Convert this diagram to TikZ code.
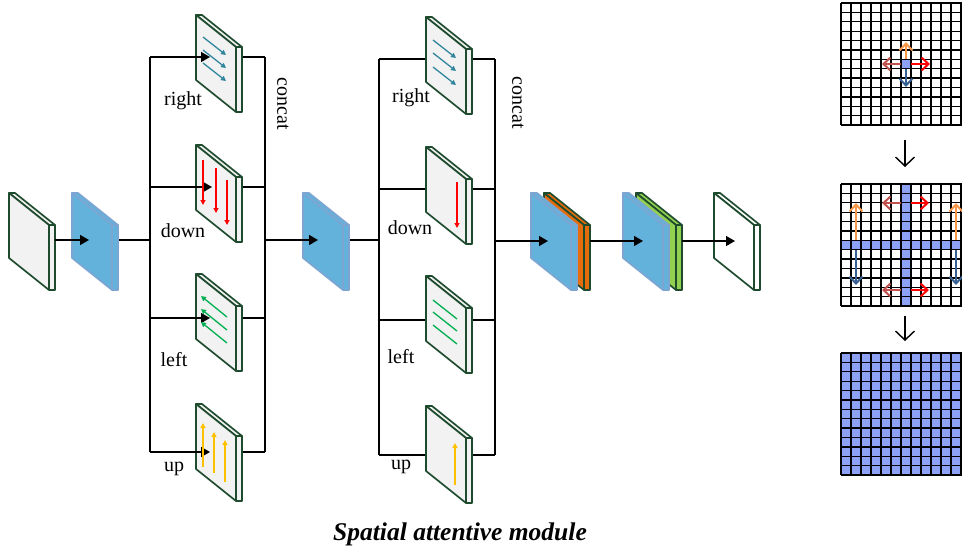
\documentclass[tikz,border=0pt]{standalone}
\usepackage{fontspec}
\setmainfont{Liberation Serif}
\usetikzlibrary{arrows.meta,calc}
\definecolor{slabD}{RGB}{30,75,45}
\definecolor{slabF}{RGB}{242,242,242}
\definecolor{blueF}{RGB}{99,178,219}
\definecolor{blueD}{RGB}{125,165,210}
\definecolor{orangeF}{RGB}{228,108,10}
\definecolor{greenF}{RGB}{146,208,80}
\definecolor{tealA}{RGB}{49,133,156}
\definecolor{redA}{RGB}{255,0,0}
\definecolor{greenA}{RGB}{0,176,80}
\definecolor{yellowA}{RGB}{255,192,0}
\definecolor{gridB}{RGB}{142,162,245}
\definecolor{gOrange}{RGB}{247,150,70}
\definecolor{gBrown}{RGB}{192,80,77}
\definecolor{gBlue}{RGB}{55,96,146}
\newcommand\slab[5]{%
  \coordinate (#1) at (#2,#3);
  \begin{scope}[shift={(#1)}]
    \filldraw[fill=#4,draw=#5,slabline] (0,0) -- (6,0) -- (46,32) -- (40,32) -- cycle;
    \filldraw[fill=#4,draw=#5,slabline] (40,32) -- (46,32) -- (46,97) -- (40,97) -- cycle;
    \filldraw[fill=#4,draw=#5,slabline] (0,0) -- (40,32) -- (40,97) -- (0,65) -- cycle;
  \end{scope}}
\newcommand\gridat[1]{%
  \foreach \i in {0,...,13} \draw[gridline] (841+10*\i,#1) -- (841+10*\i,#1+122);
  \foreach \j in {0,...,13} \draw[gridline] (841,#1+9.385*\j) -- (971,#1+9.385*\j);}
\begin{document}
\begin{tikzpicture}[x=1pt,y=-1pt,
  slabline/.style={line width=1.7pt,line join=round},
  conn/.style={line width=1.5pt,black},
  arr/.style={conn,-{Triangle[length=9pt,width=10pt]}},
  lbl/.style={font=\fontsize{20}{20}\selectfont,inner sep=0pt},
  inarr/.style={line width=1.3pt,-{Triangle[length=5pt,width=5pt]}},
  gridline/.style={line width=1.3pt,black},
  garr/.style={line width=2pt,-{Straight Barb[length=7pt,width=13pt]}},
  darr/.style={line width=1.4pt,black,-{Straight Barb[length=9pt,width=19pt]}}]
\useasboundingbox (0,0) rectangle (962,550);
% ---------- junction coordinates ----------
\coordinate (in1) at (55,240);  \coordinate (t1) at (89,240);
\coordinate (o1) at (118,240);  \coordinate (m1) at (150,240);
\coordinate (A1) at (150,57);  \coordinate (A2) at (150,187);
\coordinate (A3) at (150,318); \coordinate (A4) at (150,452);
\coordinate (TA1) at (210,57); \coordinate (TA2) at (212,187);
\coordinate (TA3) at (210,318);\coordinate (TA4) at (210,452);
\coordinate (RA1) at (242,57); \coordinate (RA2) at (242,187);
\coordinate (RA3) at (242,318);\coordinate (RA4) at (242,452);
\coordinate (C1) at (265,57);  \coordinate (C2) at (265,187);
\coordinate (C3) at (265,318); \coordinate (C4) at (265,452);
\coordinate (m2) at (265,240); \coordinate (t2) at (318,240);
\coordinate (o2) at (349,240); \coordinate (m3) at (379,240);
\coordinate (B1) at (379,59);  \coordinate (B2) at (379,189);
\coordinate (B3) at (379,320); \coordinate (B4) at (379,455);
\coordinate (LB1) at (426,59); \coordinate (LB2) at (426,189);
\coordinate (LB3) at (426,320);\coordinate (LB4) at (426,455);
\coordinate (RB1) at (472,59); \coordinate (RB2) at (472,189);
\coordinate (RB3) at (472,320);\coordinate (RB4) at (472,455);
\coordinate (D1) at (495,59);  \coordinate (D2) at (495,189);
\coordinate (D3) at (495,320); \coordinate (D4) at (495,455);
\coordinate (m4) at (495,241); \coordinate (t3) at (548,241);
\coordinate (o3) at (590,241); \coordinate (t4) at (643,241);
\coordinate (o4) at (682,241); \coordinate (t5) at (735,241);
% ---------- plain lines (under slabs) ----------
\draw[conn] (o1) -- (m1);
\draw[conn] (A1) -- (A4);
\draw[conn] (RA1) -- (C1); \draw[conn] (RA2) -- (C2);
\draw[conn] (RA3) -- (C3); \draw[conn] (RA4) -- (C4);
\draw[conn] (C1) -- (C4);
\draw[conn] (o2) -- (m3);
\draw[conn] (B1) -- (B4);
\draw[conn] (B1) -- (LB1); \draw[conn] (B2) -- (LB2);
\draw[conn] (B3) -- (LB3); \draw[conn] (B4) -- (LB4);
\draw[conn] (RB1) -- (D1); \draw[conn] (RB2) -- (D2);
\draw[conn] (RB3) -- (D3); \draw[conn] (RB4) -- (D4);
\draw[conn] (D1) -- (D4);
% ---------- slabs ----------
\slab{s1}{9}{193}{slabF}{slabD}
\slab{s2}{72}{193}{blueF}{blueD}
\slab{r1}{196}{15}{slabF}{slabD}
\slab{r2}{196}{145}{slabF}{slabD}
\slab{r3}{196}{274}{slabF}{slabD}
\slab{r4}{196}{404}{slabF}{slabD}
\slab{s3}{303}{193}{blueF}{blueD}
\slab{q1}{426}{17}{slabF}{slabD}
\slab{q2}{426}{147}{slabF}{slabD}
\slab{q3}{426}{276}{slabF}{slabD}
\slab{q4}{426}{406}{slabF}{slabD}
\slab{s4b}{544}{193}{orangeF}{slabD}
\slab{s4}{531}{193}{blueF}{blueD}
\slab{s5b}{636}{193}{greenF}{slabD}
\slab{s5}{623}{193}{blueF}{blueD}
\slab{s6}{714}{193}{white}{slabD}
% ---------- arrows over slabs ----------
\draw[arr] (in1) -- (t1);
\draw[arr] (A1) -- (TA1); \draw[arr] (A2) -- (TA2);
\draw[arr] (A3) -- (TA3); \draw[arr] (A4) -- (TA4);
\draw[arr] (m2) -- (t2);
\draw[arr] (m4) -- (t3);
\draw[arr] (o3) -- (t4);
\draw[arr] (o4) -- (t5);
% ---------- direction marks inside slabs ----------
\foreach \d in {0,13,26} \draw[inarr,tealA] (203,37+\d) -- (226,55+\d);
\draw[inarr,redA] (203,160) -- (203,205);
\draw[inarr,redA] (216,168) -- (216,213);
\draw[inarr,redA] (227,180) -- (227,225);
\foreach \d in {0,13,26} \draw[inarr,greenA] (227,317+\d) -- (201,296+\d);
\draw[inarr,yellowA] (203,467) -- (203,423);
\draw[inarr,yellowA] (214,473) -- (214,432);
\draw[inarr,yellowA] (225,482) -- (225,440);
\foreach \d in {0,13,27} \draw[inarr,tealA] (433,40+\d) -- (456,58+\d);
\draw[inarr,redA] (457,182) -- (457,228);
\foreach \d in {0,12,25} \draw[line width=1.3pt,greenA] (433,300+\d) -- (457,319+\d);
\draw[inarr,yellowA] (455,485) -- (455,443);
% ---------- labels ----------
\node[lbl] (lr1) at (183,101) {right};
\node[lbl] (ld1) at (183,231) {down};
\node[lbl] (ll1) at (174,360) {left};
\node[lbl] (lu1) at (174,469) {up};
\node[lbl,rotate=-90] (lc1) at (283,104) {concat};
\node[lbl] (lr2) at (411,98) {right};
\node[lbl] (ld2) at (410,228) {down};
\node[lbl] (ll2) at (401,357) {left};
\node[lbl] (lu2) at (401,467) {up};
\node[lbl,rotate=-90] (lc2) at (518,103) {concat};
\node[font=\fontsize{25.5}{25.5}\selectfont\bfseries\itshape,inner sep=0pt] (title) at (460,534) {Spatial attentive module};
% ---------- grids ----------
\begin{scope}
\clip (830,0) rectangle (962,550);
\fill[gridB] (901,59.3) rectangle (911,68.7);
\gridat{3}
\fill[gridB] (901,184) rectangle (911,306);
\fill[gridB] (841,240.3) rectangle (971,249.7);
\gridat{184}
\fill[gridB] (841,353) rectangle (971,475);
\gridat{353}
\coordinate (g1c) at (906,64);
\coordinate (g1u) at (906,42); \coordinate (g1d) at (906,87);
\coordinate (g1l) at (882,64); \coordinate (g1r) at (930,64);
\draw[garr,gOrange] (906,59) -- (g1u);
\draw[garr,gBlue] (906,69) -- (g1d);
\draw[garr,gBrown] (901,64) -- (g1l);
\draw[garr,redA] (911,64) -- (g1r);
\foreach \x in {856,956} {
  \draw[garr,gOrange] (\x,240) -- (\x,203);
  \draw[garr,gBlue] (\x,250) -- (\x,285);}
\foreach \y in {203,290} {
  \draw[garr,gBrown] (901,\y) -- (882,\y);
  \draw[garr,redA] (911,\y) -- (929,\y);}
\end{scope}
\coordinate (da1) at (905,140); \coordinate (da2) at (905,167);
\coordinate (db1) at (905,316); \coordinate (db2) at (905,341);
\draw[darr] (da1) -- (da2);
\draw[darr] (db1) -- (db2);
\end{tikzpicture}
\end{document}
